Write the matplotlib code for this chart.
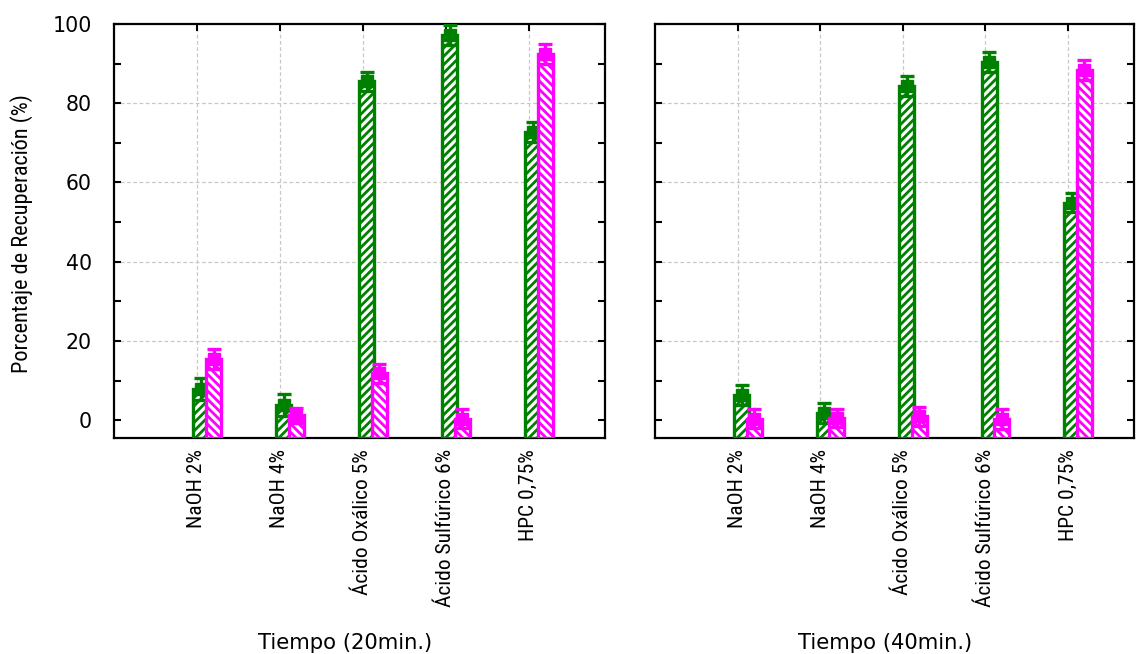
import numpy as np
import matplotlib
matplotlib.use("Agg")
import matplotlib.pyplot as plt
from matplotlib import font_manager
from matplotlib.font_manager import FontProperties
from matplotlib.ticker import MultipleLocator, FixedLocator

# ---- data -------------------------------------------------------------
categories = ["NaOH 2%", "NaOH 4%", "Ácido Oxálico 5%", "Ácido Sulfúrico 6%", "HPC 0,75%"]

green_20 = [7.8, 3.8, 85.5, 97.3, 72.8]
green_20_err = [2.8, 2.8, 2.5, 2.5, 2.5]
magenta_20 = [15.5, 1.2, 11.8, 0.4, 92.4]
magenta_20_err = [2.5, 1.8, 2.4, 2.5, 2.6]

green_40 = [6.3, 1.9, 84.3, 90.4, 54.9]
green_40_err = [2.5, 2.5, 2.5, 2.6, 2.4]
magenta_40 = [0.4, 0.5, 1.0, 0.3, 88.4]
magenta_40_err = [2.4, 2.2, 2.4, 2.5, 2.6]

panel_titles = ["Tiempo (20min.)", "Tiempo (40min.)"]
y_label = "Porcentaje de Recuperación (%)"


# ---- fonts ------------------------------------------------------------
def pick_narrow_font():
    entries = font_manager.fontManager.ttflist
    prefs = ["Liberation Sans Narrow", "DejaVu Sans Condensed", "Roboto Condensed",
             "Open Sans Condensed", "Noto Sans Condensed"]
    for p in prefs:
        for f in entries:
            if f.name == p and f.weight in (400, "normal", "regular") and f.style == "normal":
                return FontProperties(fname=f.fname)
    for f in entries:
        fn = f.fname.lower()
        if ("condensed" in fn or "narrow" in fn) and "bold" not in fn and "italic" not in fn \
                and "oblique" not in fn and "light" not in fn and "semi" not in fn \
                and "mono" not in fn and "serif" not in fn.replace("sans", ""):
            return FontProperties(fname=f.fname)
    return FontProperties(family="Liberation Sans")


narrow_fp = pick_narrow_font()
wide_fp = FontProperties(family="DejaVu Sans")

plt.rcParams["hatch.linewidth"] = 2.0

GREEN = "#008000"
MAGENTA = "#FF00FF"
Y_FLOOR = -4.5

fig = plt.figure(figsize=(11.36, 6.54), dpi=100)
W, H = 1136, 654
renderer = fig.canvas.get_renderer()


def fitted_size(text, fp, target_px, rotation=0):
    """Font size that makes `text` span `target_px` along its baseline."""
    t = fig.text(0, 0, text, fontproperties=fp, fontsize=10, rotation=rotation)
    bb = t.get_window_extent(renderer)
    span = bb.height if rotation else bb.width
    t.remove()
    return 10 * target_px / span


cat_size = fitted_size("Ácido Sulfúrico 6%", narrow_fp, 158, rotation=90)
ylab_size = fitted_size(y_label, narrow_fp, 278, rotation=90)
title_size = fitted_size(panel_titles[0], wide_fp, 174)
tick_size = fitted_size("100", wide_fp, 39)


def add_axes_px(x0, x1, y0, y1):
    return fig.add_axes([x0 / W, 1 - y1 / H, (x1 - x0) / W, (y1 - y0) / H])


ax_left = add_axes_px(114, 605, 24, 438)
ax_right = add_axes_px(655, 1134, 24, 438)

panels = [
    (ax_left, green_20, green_20_err, magenta_20, magenta_20_err, 5.92),
    (ax_right, green_40, green_40_err, magenta_40, magenta_40_err, 5.80),
]

x = np.arange(1, len(categories) + 1)
bar_w = 0.18
off_g, off_m = 0.048, 0.20

for ax, g, ge, m, me, xmax in panels:
    g = np.asarray(g)
    m = np.asarray(m)
    ax.set_xlim(0, xmax)
    ax.set_ylim(Y_FLOOR, 100)

    # bars rise from the floor of the axis
    ax.bar(x + off_g, g - Y_FLOOR, bottom=Y_FLOOR, width=bar_w,
           facecolor="white", edgecolor=GREEN, hatch="////", linewidth=2.4, zorder=3)
    ax.errorbar(x + off_g, g, yerr=ge, fmt="s", color=GREEN, ms=8,
                elinewidth=2.4, capsize=5, capthick=2.4, zorder=4)
    ax.bar(x + off_m, m - Y_FLOOR, bottom=Y_FLOOR, width=bar_w,
           facecolor="white", edgecolor=MAGENTA, hatch="\\\\\\\\", linewidth=2.4, zorder=5)
    ax.errorbar(x + off_m, m, yerr=me, fmt="s", color=MAGENTA, ms=8,
                elinewidth=2.4, capsize=5, capthick=2.4, zorder=6)

    # grid
    for yy in (20, 40, 60, 80):
        ax.axhline(yy, color="#c8c8c8", lw=0.9, ls=(0, (3, 2)), zorder=1)
    for xx in x:
        ax.axvline(xx, color="#c8c8c8", lw=0.9, ls=(0, (3, 2)), zorder=1)

    # ticks
    ax.yaxis.set_major_locator(MultipleLocator(20))
    ax.yaxis.set_minor_locator(MultipleLocator(10))
    ax.xaxis.set_major_locator(FixedLocator(x))
    ax.tick_params(axis="both", which="both", direction="in", top=True, right=True,
                   length=5, width=1.5, color="black")
    ax.tick_params(axis="x", pad=8)
    ax.set_xticklabels(categories, rotation=90, fontproperties=narrow_fp,
                       fontsize=cat_size, va="top", ha="center")
    for s in ax.spines.values():
        s.set_linewidth(1.6)

ax_left.set_yticks([0, 20, 40, 60, 80, 100])
ax_left.set_yticklabels(["0", "20", "40", "60", "80", "100"], fontproperties=wide_fp,
                        fontsize=tick_size)
ax_left.tick_params(axis="y", which="major", pad=16)
ax_right.set_yticklabels([])

fig.text(22 / W, 1 - 234 / H, y_label, rotation=90, ha="center", va="center",
         fontproperties=narrow_fp, fontsize=ylab_size)
fig.text(345 / W, 1 - 643 / H, panel_titles[0], ha="center", va="center",
         fontproperties=wide_fp, fontsize=title_size)
fig.text(885 / W, 1 - 643 / H, panel_titles[1], ha="center", va="center",
         fontproperties=wide_fp, fontsize=title_size)

fig.savefig("out.png", dpi=100)
